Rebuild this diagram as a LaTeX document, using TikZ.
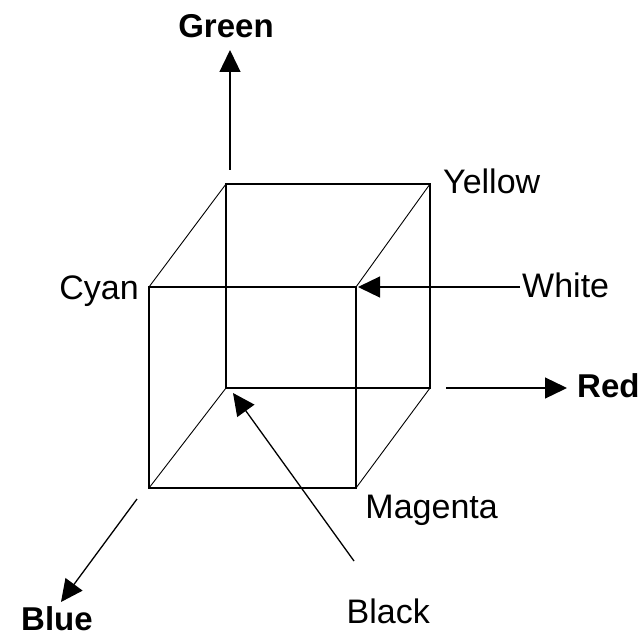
\documentclass[tikz,border=0pt]{standalone}
\usepackage{fontspec}
\setmainfont{Liberation Sans}
\usetikzlibrary{arrows.meta}
\begin{document}
\begin{tikzpicture}[x=1pt,y=-1pt,
  edge/.style={line width=1.3pt},
  diag/.style={line width=0.9pt},
  axis/.style={line width=1.3pt,-{Triangle[length=22pt,width=21pt]}},
  lbl/.style={inner sep=0pt,font=\fontsize{34}{34}\selectfont},
  blbl/.style={inner sep=0pt,font=\fontsize{33}{33}\selectfont\bfseries}]
\useasboundingbox (0,0) rectangle (644,636);
% cube corners
\coordinate (K) at (226,388);
\coordinate (G) at (226,184);
\coordinate (Y) at (430,184);
\coordinate (R) at (430,388);
\coordinate (C) at (149,287);
\coordinate (W) at (356,287);
\coordinate (B) at (149,488);
\coordinate (M) at (356,488);
% back square
\draw[edge] (K) -- (G) -- (Y) -- (R) -- cycle;
% front square
\draw[edge] (B) -- (C) -- (W) -- (M) -- cycle;
% connecting edges
\draw[diag] (C) -- (G);
\draw[diag] (W) -- (Y);
\draw[diag] (B) -- (K);
\draw[diag] (M) -- (R);
% labels
\node[blbl,anchor=base] (lgreen) at (226,38) {Green};
\node[blbl,anchor=base west] (lred) at (577,397) {Red};
\node[blbl,anchor=base west] (lblue) at (21,630) {Blue};
\node[lbl,anchor=base west] (lyellow) at (443,194) {Yellow};
\node[lbl,anchor=base east] (lcyan) at (139,299) {Cyan};
\node[lbl,anchor=base west] (lwhite) at (522,297) {White};
\node[lbl,anchor=base east] (lmagenta) at (498,518) {Magenta};
\node[lbl,anchor=base east] (lblack) at (430,623) {Black};
% axis start / end points
\coordinate (gs) at (230,170);
\coordinate (ge) at (230,50);
\coordinate (rs) at (446,388);
\coordinate (re) at (567,388);
\coordinate (bs) at (137,499);
\coordinate (be) at (61,602);
\coordinate (ws) at (520,287);
\coordinate (we) at (358,287);
\coordinate (ks) at (354,561);
\coordinate (ke) at (233,393);
% axes and pointers
\draw[axis] (gs) -- (ge);
\draw[axis] (rs) -- (re);
\draw[axis] (bs) -- (be);
\draw[axis] (ws) -- (we);
\draw[axis] (ks) -- (ke);
\end{tikzpicture}
\end{document}
